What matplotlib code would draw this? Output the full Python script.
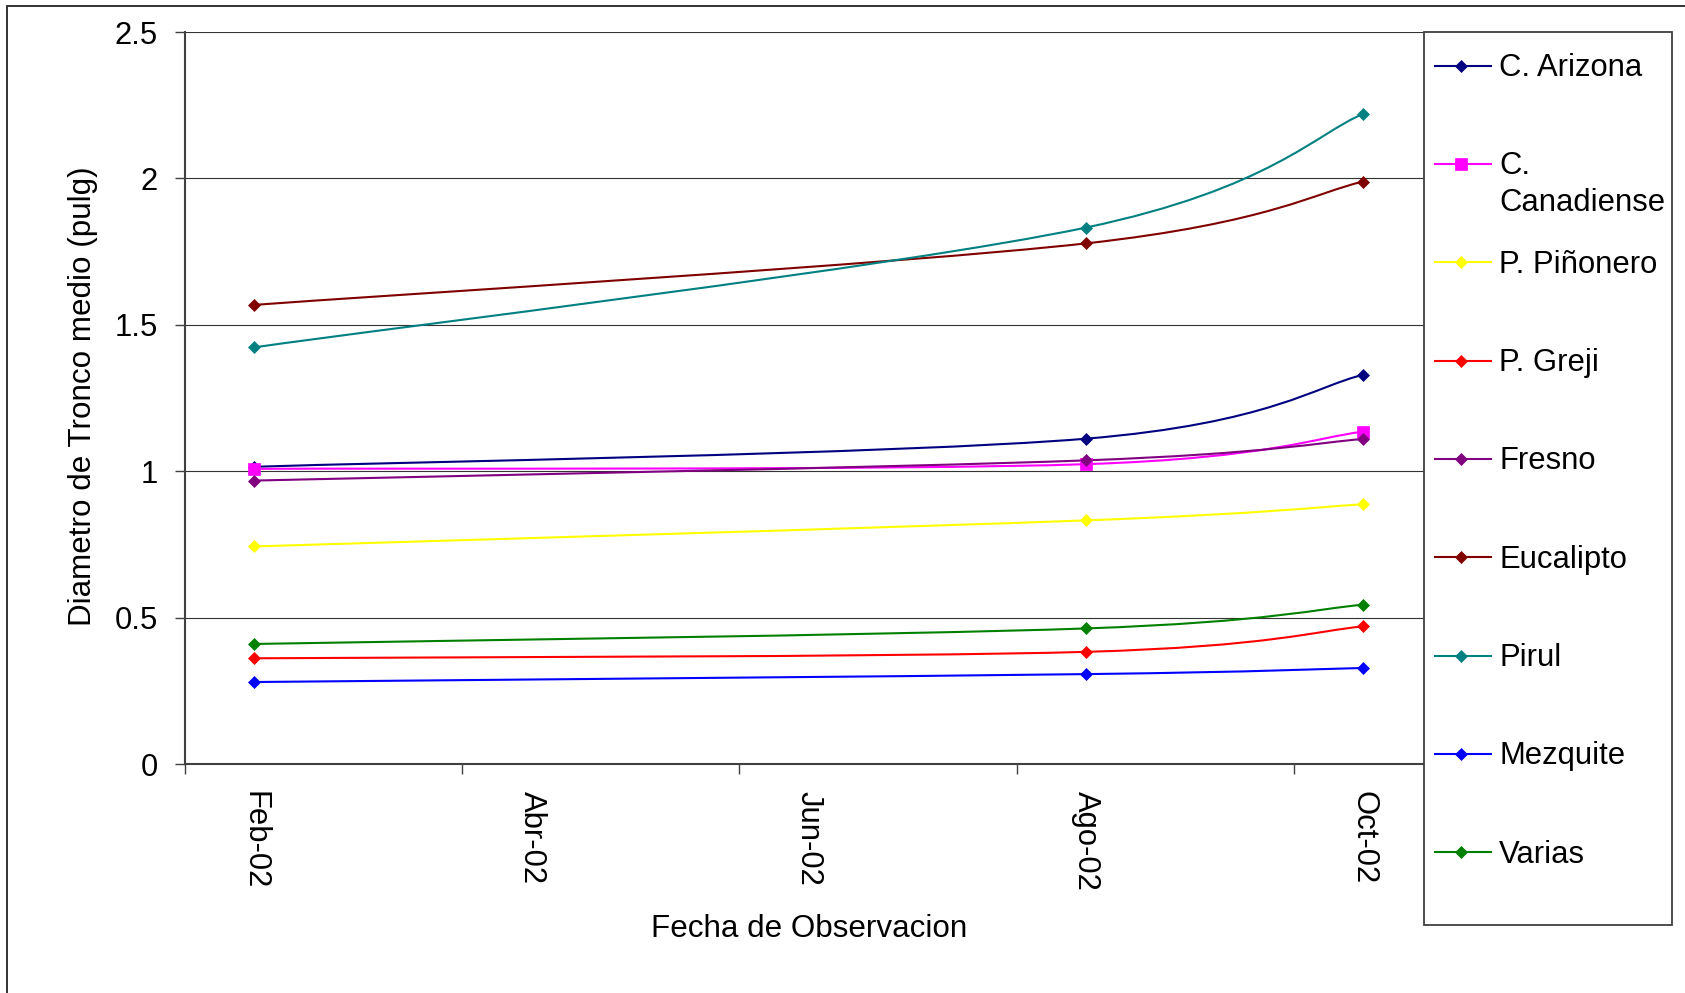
import matplotlib
matplotlib.use("Agg")
import matplotlib.pyplot as plt
from matplotlib.path import Path
from matplotlib.patches import PathPatch, Rectangle
from matplotlib.lines import Line2D

plt.rcParams['font.family'] = ['Liberation Sans', 'DejaVu Sans']

# ---------------- data ----------------
obs_months = [0, 6, 8]            # month index from Feb-02 (Feb, Ago, Oct)
tick_months = [0, 2, 4, 6, 8]
tick_labels = ['Feb-02', 'Abr-02', 'Jun-02', 'Ago-02', 'Oct-02']

series_names = ['C. Arizona', 'C.\nCanadiense', 'P. Piñonero', 'P. Greji', 'Fresno',
                'Eucalipto', 'Pirul', 'Mezquite', 'Varias']
c_arizona = [1.015, 1.111, 1.329]
c_canadiense = [1.008, 1.024, 1.135]
p_pinonero = [0.743, 0.832, 0.887]
p_greji = [0.361, 0.383, 0.470]
fresno = [0.968, 1.037, 1.110]
eucalipto = [1.568, 1.778, 1.989]
pirul = [1.423, 1.832, 2.220]
mezquite = [0.280, 0.307, 0.328]
varias = [0.410, 0.463, 0.544]
series_values = [c_arizona, c_canadiense, p_pinonero, p_greji, fresno,
                 eucalipto, pirul, mezquite, varias]
colors = ['#000080', '#FF00FF', '#FFFF00', '#FF0000', '#800080',
          '#800000', '#008080', '#0000FF', '#008000']
markers = ['D', 's', 'D', 'D', 'D', 'D', 'D', 'D', 'D']

# ---------------- figure ----------------
W, H = 1685, 993
fig = plt.figure(figsize=(W / 100, H / 100), dpi=100)


def fx(x):
    return x / W


def fy(y):
    return 1 - y / H


AX_L, AX_R, AX_T, AX_B = 185, 1424, 32, 764
ax = fig.add_axes([fx(AX_L), fy(AX_B), (AX_R - AX_L) / W, (AX_B - AX_T) / H])
XLIM = (-0.5, 8.44)
YLIM = (0, 2.5)


def smooth_path(xs, ys):
    """Excel-style smoothed line: cubic Bezier through the data points."""
    pts = list(zip(xs, ys))
    n = len(pts)
    verts = [pts[0]]
    codes = [Path.MOVETO]
    for i in range(n - 1):
        p0 = pts[i - 1] if i > 0 else pts[i]
        p1 = pts[i]
        p2 = pts[i + 1]
        p3 = pts[i + 2] if i + 2 < n else pts[i + 1]
        c1 = (p1[0] + (p2[0] - p0[0]) / 6.0, p1[1] + (p2[1] - p0[1]) / 6.0)
        c2 = (p2[0] - (p3[0] - p1[0]) / 6.0, p2[1] - (p3[1] - p1[1]) / 6.0)
        verts += [c1, c2, p2]
        codes += [Path.CURVE4] * 3
    return Path(verts, codes)


LW = 1.5
for vals, col, mk in zip(series_values, colors, markers):
    patch = PathPatch(smooth_path(obs_months, vals), fill=False, edgecolor=col,
                      lw=LW, zorder=3)
    ax.add_patch(patch)
    ms = 8.5 if mk == 's' else 6.6
    ax.plot(obs_months, vals, linestyle='none', marker=mk, markersize=ms,
            color=col, markeredgecolor=col, markeredgewidth=0.5, zorder=4)

ax.set_xlim(*XLIM)
ax.set_ylim(*YLIM)
ax.set_yticks([0, 0.5, 1, 1.5, 2, 2.5])
ax.set_yticklabels(['0', '0.5', '1', '1.5', '2', '2.5'])
ax.set_xticks(tick_months)
ax.set_xticklabels(tick_labels, rotation=270)
ax.set_xticks([-0.5, 1.5, 3.5, 5.5, 7.5], minor=True)

ax.tick_params(axis='x', which='major', length=0, pad=19.5, labelsize=22.3)
ax.tick_params(axis='x', which='minor', length=7, width=1, direction='out',
               color='#404040')
ax.tick_params(axis='y', length=7, width=1, direction='out', color='#404040',
               pad=12.5, labelsize=22.3)

ax.yaxis.grid(True, color='#333333', lw=0.8)
ax.set_axisbelow(True)
for s in ['top', 'right']:
    ax.spines[s].set_visible(False)
for s in ['left', 'bottom']:
    ax.spines[s].set_color('#404040')
    ax.spines[s].set_linewidth(1.5)

# axis titles
fig.text(fx(91), fy(396), 'Diametro de Tronco medio (pulg)', rotation=90,
         rotation_mode='anchor', ha='center', va='baseline', fontsize=22.6)
fig.text(fx(809), fy(937), 'Fecha de Observacion', ha='center', va='baseline',
         fontsize=22.6)

# legend box
fig.add_artist(Rectangle((fx(1424), fy(925)), (1672 - 1424) / W, (925 - 32) / H,
                         transform=fig.transFigure, facecolor='white',
                         edgecolor='#404040', lw=1.3, zorder=5))
for i, (name, col, mk) in enumerate(zip(series_names, colors, markers)):
    yc = 65.7 + 98.3 * i
    ms = 8.0 if mk == 's' else 6.0
    fig.add_artist(Line2D([fx(1435), fx(1461), fx(1491)], [fy(yc)] * 3,
                          transform=fig.transFigure, color=col, lw=LW,
                          marker=mk, markersize=ms, markevery=[1],
                          markeredgecolor=col, markeredgewidth=0.5, zorder=6))
    for j, line in enumerate(name.split('\n')):
        fig.text(fx(1499), fy(yc + 10.5 + 36.7 * j), line, ha='left',
                 va='baseline', fontsize=22.3, zorder=6)

# outer chart frame
fig.add_artist(Rectangle((fx(6.5), -0.2), 1.5, fy(6) + 0.2,
                         transform=fig.transFigure, fill=False,
                         edgecolor='#333333', lw=1.4, zorder=7))

fig.savefig('out.png', dpi=100)
